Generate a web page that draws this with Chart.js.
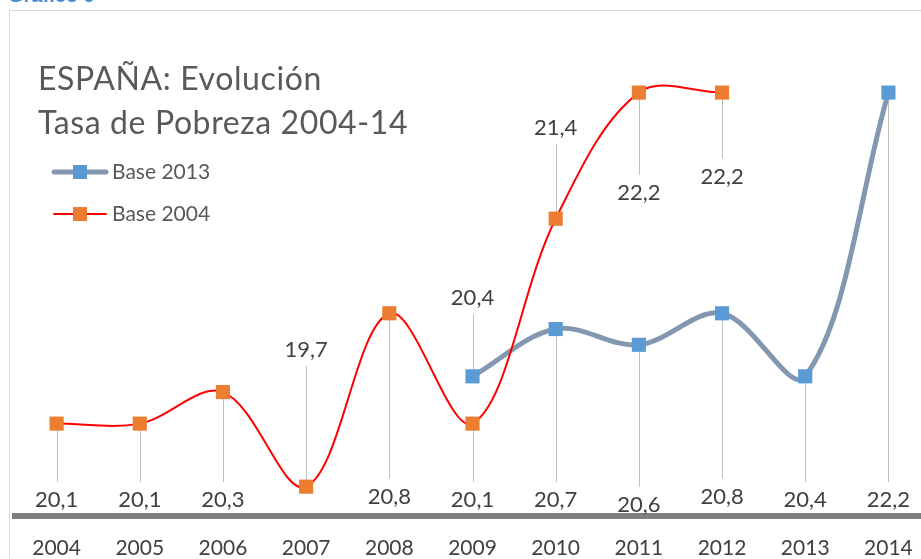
<!DOCTYPE html>
<html>
<head>
<meta charset="utf-8">
<script src="https://cdn.jsdelivr.net/npm/chart.js@4"></script>
<style>
  html, body { margin: 0; padding: 0; background: #fff; overflow: hidden; }
  #wrap { position: relative; width: 921px; height: 559px; overflow: hidden; }
  #frame { position: absolute; left: 9px; top: 10px; width: 960px; height: 600px;
           border-left: 1px solid #d9d9d9; border-top: 1px solid #d9d9d9; }
  #caption { position: absolute; left: 8px; top: -16px; font: bold 20px "Liberation Sans", Arial, sans-serif; color: #4a8fd4; }
  #holder { position: absolute; left: 0; top: 0; width: 940px; height: 559px; }
  #title { position: absolute; left: 38px; top: 56px; font: 32px Lato, sans-serif; color: #595959;
           line-height: 44px; letter-spacing: 0.6px; }
</style>
</head>
<body>
<div id="wrap">
  <div id="caption">Gráfico 9</div>
  <div id="frame"></div>
  <div id="holder"><canvas id="povertyChart"></canvas></div>
  <div id="title">ESPAÑA: Evolución<br>Tasa de Pobreza 2004-14</div>
</div>
<script>
// Data
const years = ['2004', '2005', '2006', '2007', '2008', '2009', '2010', '2011', '2012', '2013', '2014'];
const base2004 = [20.1, 20.1, 20.3, 19.7, 20.8, 20.1, 21.4, 22.2, 22.2, null, null];
const base2013 = [null, null, null, null, null, 20.4, 20.7, 20.6, 20.8, 20.4, 22.2];

// Where each value label sits (pixel y of label centre), layout only
const labelY2004 = [500, 500, 500, 350, 497, 500, 128, 193, 177, null, null];
const labelY2013 = [null, null, null, null, null, 298, 500, 505, 497, 500, 500];

const fmt = v => v.toFixed(1).replace('.', ',');

// Drop lines + value labels
const valueLabels = {
    id: 'valueLabels',
    beforeDatasetsDraw(chart) {
        const ctx = chart.ctx;
        ctx.save();
        ctx.strokeStyle = '#bfbfbf';
        ctx.lineWidth = 1;
        [labelY2013, labelY2004].forEach((ys, i) => {
            const meta = chart.getDatasetMeta(i);
            meta.data.forEach((pt, j) => {
                if (ys[j] == null || chart.data.datasets[i].data[j] == null) return;
                const end = ys[j] > pt.y ? ys[j] - 18 : ys[j] + 16;
                const x = Math.round(pt.x) + 0.5;
                ctx.beginPath();
                ctx.moveTo(x, pt.y);
                ctx.lineTo(x, end);
                ctx.stroke();
            });
        });
        ctx.restore();
    },
    afterDatasetsDraw(chart) {
        const ctx = chart.ctx;
        ctx.save();
        ctx.font = '22px Lato, sans-serif';
        ctx.fillStyle = '#404040';
        ctx.textAlign = 'center';
        ctx.textBaseline = 'middle';
        [labelY2013, labelY2004].forEach((ys, i) => {
            const meta = chart.getDatasetMeta(i);
            const vals = chart.data.datasets[i].data;
            meta.data.forEach((pt, j) => {
                if (ys[j] == null || vals[j] == null) return;
                ctx.fillText(fmt(vals[j]), pt.x, ys[j]);
            });
        });
        ctx.restore();
    }
};

// Legend drawn inside the plot, top-left
const insideLegend = {
    id: 'insideLegend',
    afterDraw(chart) {
        const ctx = chart.ctx;
        ctx.save();
        chart.data.datasets.forEach((ds, i) => {
            const y = 172 + i * 42;
            ctx.strokeStyle = ds.borderColor;
            ctx.lineWidth = ds.borderWidth;
            ctx.lineCap = 'round';
            ctx.beginPath();
            ctx.moveTo(54, y);
            ctx.lineTo(106, y);
            ctx.stroke();
            ctx.fillStyle = ds.pointBackgroundColor;
            ctx.fillRect(73, y - 7, 14, 14);
            ctx.fillStyle = '#595959';
            ctx.font = '21px Lato, sans-serif';
            ctx.textBaseline = 'middle';
            ctx.fillText(ds.label, 112, y);
        });
        ctx.restore();
    }
};

const ctx = document.getElementById('povertyChart').getContext('2d');
const povertyChart = new Chart(ctx, {
    type: 'line',
    data: {
        labels: years,
        datasets: [{
            label: 'Base 2013',
            data: base2013,
            borderColor: '#8497b0',
            borderWidth: 5,
            pointStyle: 'rect',
            pointRadius: 10,
            pointBorderWidth: 0,
            pointBackgroundColor: '#5b9bd5',
            pointBorderColor: '#5b9bd5',
            tension: 0.35,
            order: 1
        }, {
            label: 'Base 2004',
            data: base2004,
            borderColor: '#ff0000',
            borderWidth: 2,
            pointStyle: 'rect',
            pointRadius: 10,
            pointBorderWidth: 0,
            pointBackgroundColor: '#ed7d31',
            pointBorderColor: '#ed7d31',
            tension: 0.35,
            order: 0
        }]
    },
    options: {
        responsive: true,
        maintainAspectRatio: false,
        animation: false,
        layout: { padding: { top: 30, left: 15, right: 9, bottom: 0 } },
        plugins: {
            legend: { display: false },
            tooltip: { enabled: false }
        },
        scales: {
            x: {
                offset: true,
                grid: { display: false, drawTicks: false },
                border: { display: true, color: '#808080', width: 6 },
                ticks: {
                    font: { family: 'Lato', size: 21 },
                    color: '#404040',
                    padding: 20,
                    maxRotation: 0
                },
                afterFit(scale) { scale.height = 43; }
            },
            y: {
                display: false,
                min: 19.514,
                max: 22.597
            }
        }
    },
    plugins: [valueLabels, insideLegend]
});
</script>
</body>
</html>
